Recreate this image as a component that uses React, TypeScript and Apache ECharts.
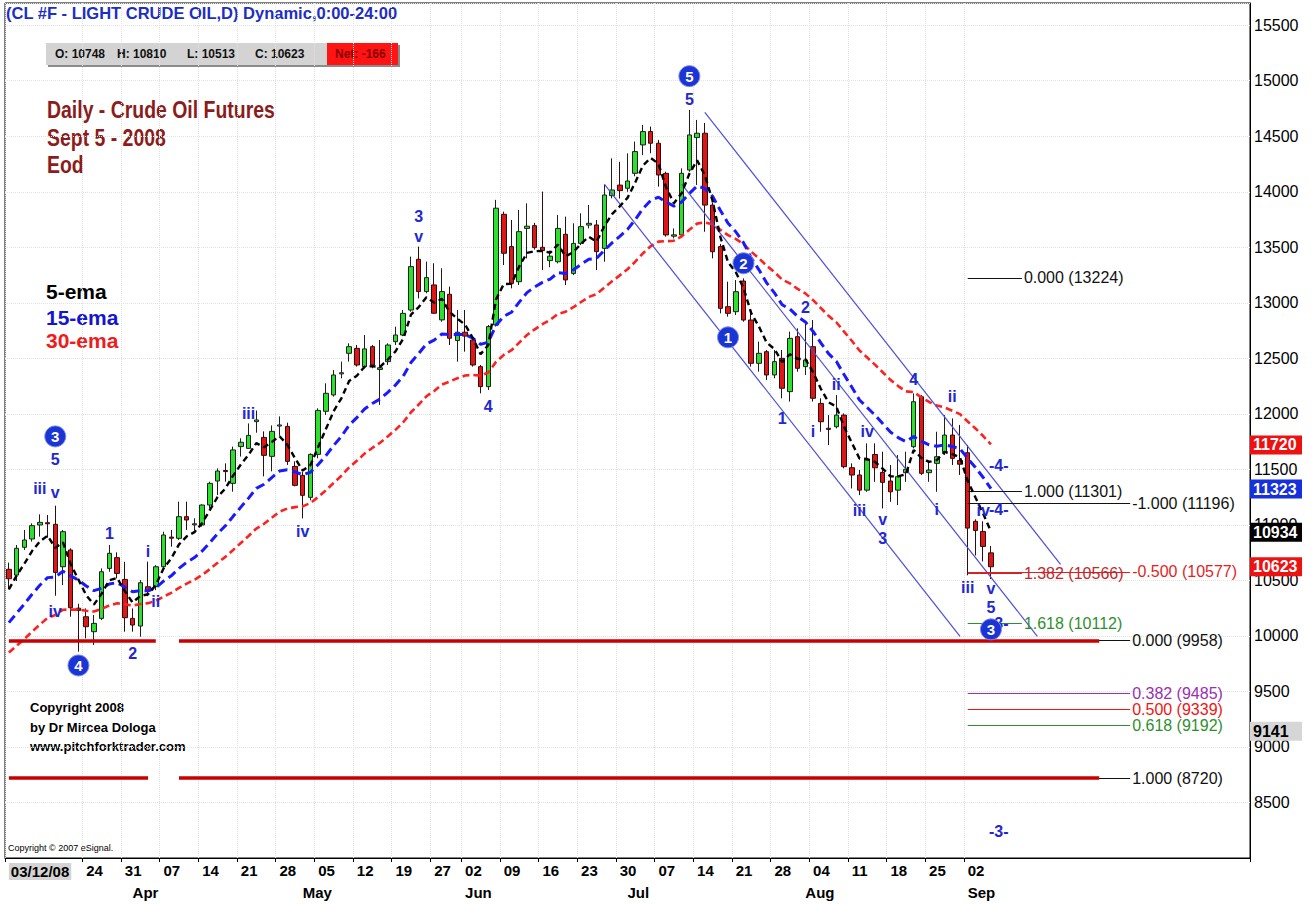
import React, { useEffect, useRef } from 'react';
import * as echarts from 'echarts';

// ---------- data (prices in cents, e.g. 10623 = $106.23) ----------
const dates = [
  '03/07','03/10','03/11','03/12','03/13','03/14','03/17','03/18','03/19','03/20',
  '03/24','03/25','03/26','03/27','03/28','03/31','04/01','04/02','04/03','04/04',
  '04/07','04/08','04/09','04/10','04/11','04/14','04/15','04/16','04/17','04/18',
  '04/21','04/22','04/23','04/24','04/25','04/28','04/29','04/30','05/01','05/02',
  '05/05','05/06','05/07','05/08','05/09','05/12','05/13','05/14','05/15','05/16',
  '05/19','05/20','05/21','05/22','05/23','05/27','05/28','05/29','05/30','06/02',
  '06/03','06/04','06/05','06/06','06/09','06/10','06/11','06/12','06/13','06/16',
  '06/17','06/18','06/19','06/20','06/23','06/24','06/25','06/26','06/27','06/30',
  '07/01','07/02','07/03','07/04','07/07','07/08','07/09','07/10','07/11','07/14',
  '07/15','07/16','07/17','07/18','07/21','07/22','07/23','07/24','07/25','07/28',
  '07/29','07/30','07/31','08/01','08/04','08/05','08/06','08/07','08/08','08/11',
  '08/12','08/13','08/14','08/15','08/18','08/19','08/20','08/21','08/22','08/25',
  '08/26','08/27','08/28','08/29','09/02','09/03','09/04','09/05'
];

const opens = [
  10600,10548,10798,10873,10999,11020,11005,10623,10774,10250,
  10173,10038,10158,10608,10705,10509,10158,10089,10443,10443,
  10623,10890,10879,11074,11000,10999,11179,11395,11490,11374,
  11705,11689,11930,11788,11617,11890,11887,11527,11446,11248,
  11635,12023,12170,12360,12545,12590,12425,12605,12400,12470,
  12650,12710,12935,13392,13101,13161,12846,13077,12660,12735,
  12665,12425,12245,12800,13797,13506,13190,13670,13695,13500,
  13380,13370,13617,13265,13535,13700,13701,13490,13965,14060,
  14031,14166,14422,14542,14437,14166,13600,13611,14196,14488,
  14527,13880,13506,12965,12920,13196,12845,12455,12560,12350,
  12500,12200,12695,12425,12605,12094,11870,11884,11989,11515,
  11449,11313,11634,11473,11395,11313,11470,11704,12154,11470,
  11554,11659,11809,11580,11650,11032,10941,10748
];

const highs = [
  10660,10819,10954,11014,11095,11089,11173,10954,10789,10290,
  10248,10188,10608,10819,10753,10668,10248,10503,10669,10638,
  10938,10954,11209,11209,11059,11185,11389,11509,11554,11705,
  11780,11914,12030,11842,11896,11977,11920,11572,11480,11644,
  12050,12275,12395,12470,12635,12620,12710,12620,12665,12635,
  12785,12935,13416,13506,13371,13356,13311,13146,12935,12935,
  12680,12440,12800,13927,13821,13746,13836,13896,13720,14001,
  13470,13791,13776,13716,13806,13881,13746,14061,14301,14270,
  14346,14452,14602,14587,14467,14181,13670,14211,14737,14647,
  14620,13900,13530,13190,13205,13220,12920,12650,12575,12575,
  12575,12740,12770,12830,12845,12140,11989,12169,12004,11554,
  11494,11734,11734,11659,11539,11629,11659,12184,12169,11569,
  11839,11989,11959,11900,11720,11050,11032,10810
];

const lows = [
  10420,10494,10774,10849,10894,10885,10362,10458,10173,9858,
  9978,9918,10143,10578,10518,10038,10038,9993,10358,10413,
  10608,10804,10864,10954,10954,10984,11149,11269,11389,11299,
  11615,11689,11830,11437,11482,11806,11540,11347,11059,11221,
  11600,11990,12155,12320,12470,12425,12410,12410,12080,12440,
  12620,12700,12920,13040,13086,12900,12830,12620,12470,12560,
  12425,12185,12215,12786,13340,13130,13160,13400,13480,13295,
  13320,13355,13160,13250,13520,13670,13295,13370,13941,13940,
  14000,14140,14330,14347,14046,13596,13580,13596,14180,14061,
  13640,13400,12905,12875,12890,12830,12425,12380,12305,12320,
  12140,12110,12380,12350,12110,11839,11719,11869,11509,11328,
  11268,11298,11388,11148,11208,11178,11388,11689,11449,11388,
  11298,11629,11539,11450,10546,10725,10671,10513
];

const closes = [
  10515,10789,10864,10993,11023,11010,10572,10939,10254,10230,
  10083,10113,10578,10744,10563,10164,10098,10479,10404,10623,
  10909,10880,11074,11044,11010,11179,11374,11485,11480,11675,
  11744,11806,11945,11626,11842,11900,11572,11356,11266,11635,
  12031,12185,12350,12370,12605,12440,12585,12440,12415,12620,
  12710,12905,13326,13101,13227,12906,13101,12681,12735,12700,
  12440,12245,12786,13852,13446,13175,13641,13690,13497,13470,
  13420,13670,13206,13535,13686,13716,13461,13971,14016,14010,
  14097,14362,14542,14437,14151,13611,13612,14166,14512,14527,
  13880,13460,12950,12905,13100,12845,12455,12545,12350,12470,
  12230,12680,12410,12485,12140,11929,11860,11989,11524,11449,
  11313,11584,11514,11383,11298,11434,11500,12109,11464,11494,
  11614,11809,11599,11546,10971,10950,10806,10623
];

const ema5 = [
  10420,10543,10650,10764,10850,10903,10793,10842,10646,10507,
  10366,10282,10381,10502,10522,10403,10301,10360,10375,10458,
  10608,10699,10824,10897,10935,11016,11135,11252,11328,11444,
  11544,11631,11736,11699,11747,11798,11723,11601,11489,11538,
  11702,11863,12025,12140,12295,12343,12424,12429,12424,12489,
  12563,12677,12893,12962,13050,13002,13035,12917,12856,12804,
  12683,12537,12620,13031,13169,13171,13328,13449,13465,13467,
  13451,13524,13418,13457,13533,13594,13550,13690,13799,13869,
  13945,14084,14237,14304,14253,14039,13897,13987,14162,14284,
  14149,13919,13596,13366,13277,13133,12907,12786,12641,12584,
  12466,12537,12495,12492,12375,12226,12104,12066,11885,11740,
  11598,11593,11567,11506,11437,11436,11457,11674,11604,11567,
  11583,11658,11638,11607,11395,11247,11100,10941
];

const ema15 = [
  10120,10204,10287,10375,10456,10525,10531,10582,10541,10502,
  10450,10408,10429,10468,10480,10440,10397,10407,10407,10434,
  10493,10541,10608,10663,10706,10765,10841,10922,10992,11077,
  11160,11241,11329,11366,11426,11485,11496,11478,11451,11474,
  11544,11624,11715,11797,11898,11966,12043,12093,12133,12194,
  12259,12340,12463,12543,12629,12664,12719,12714,12717,12715,
  12681,12626,12646,12797,12878,12915,13006,13092,13143,13184,
  13214,13271,13263,13297,13346,13392,13401,13472,13540,13599,
  13661,13749,13848,13922,13951,13908,13871,13908,13984,14052,
  14030,13959,13833,13717,13640,13541,13405,13297,13179,13090,
  12982,12944,12877,12828,12742,12640,12542,12473,12354,12241,
  12125,12057,11989,11913,11836,11786,11750,11795,11754,11721,
  11708,11721,11706,11686,11597,11516,11427,11326
];

const ema30 = [
  9850,9911,9972,10038,10102,10161,10188,10236,10237,10237,
  10227,10220,10243,10275,10294,10286,10274,10287,10295,10316,
  10354,10388,10432,10471,10506,10549,10602,10659,10712,10774,
  10837,10900,10967,11010,11064,11118,11147,11160,11167,11197,
  11251,11311,11378,11442,11517,11577,11642,11693,11740,11797,
  11856,11924,12014,12084,12158,12206,12264,12291,12320,12345,
  12351,12344,12373,12468,12531,12573,12642,12710,12761,12807,
  12847,12900,12920,12960,13007,13053,13079,13137,13194,13247,
  13302,13370,13446,13510,13551,13555,13559,13598,13657,13713,
  13724,13707,13658,13609,13576,13529,13460,13401,13333,13277,
  13209,13175,13126,13085,13024,12953,12883,12825,12741,12658,
  12571,12507,12443,12375,12306,12250,12202,12196,12149,12107,
  12075,12058,12028,11997,11931,11868,11800,11724
];

// x-axis tick labels
const firstDateLabel = '03/12/08';
const weekLabelDates = [
  '03/24','03/31','04/07','04/14','04/21','04/28','05/05','05/12','05/19','05/27',
  '06/02','06/09','06/16','06/23','06/30','07/07','07/14','07/21','07/28','08/04',
  '08/11','08/18','08/25','09/02'
];
const monthStartDates = ['04/01','05/01','06/02','07/01','08/01','09/02'];
const monthNames = ['Apr','May','Jun','Jul','Aug','Sep'];

// Elliott-wave labels: [text, bar index, price]
const waveLabels: [string, number, number][] = [
  ['iii', 4, 11329], ['v', 6, 11293], ['5', 6, 11590], ['1', 13, 10924], ['i', 18, 10762],
  ['iv', 6, 10221], ['ii', 19, 10311], ['2', 16, 9842], ['iii', 31, 12004], ['iv', 38, 10942],
  ['3', 53, 13780], ['v', 53, 13600], ['4', 62, 12068], ['5', 88, 14834], ['2', 103, 12960],
  ['1', 100, 11960], ['ii', 107, 12266], ['i', 104, 11843], ['iv', 111, 11843], ['iii', 110, 11131],
  ['v', 113, 11050], ['3', 113, 10878], ['4', 117, 12311], ['ii', 122, 12158], ['i', 120, 11140],
  ['iii', 124, 10437], ['iv', 126, 11131], ['v', 127, 10428], ['5', 127, 10257],
  ['-4-', 128, 11536], ['-4-', 128, 11140], ['-3-', 128, 10110], ['-3-', 128, 8239]
];
const circledLabels: [string, number, number][] = [
  ['3', 6, 11797], ['4', 9, 9734], ['5', 88, 15041], ['2', 95, 13356], ['1', 93, 12689], ['3', 127, 10059]
];

// pitchfork lines: [startBar, startPrice, endBar, endPrice]
const pitchforkLines: [number, number, number, number][] = [
  [90, 14716, 136, 10645],
  [87, 14068, 133, 9997],
  [77, 14068, 123, 9997]
];

// Fibonacci levels
const fibTexts = ['0.000', '1.000', '-1.000', '1.382', '-0.500', '1.618', '0.000', '0.382', '0.500', '0.618', '1.000'];
const fibValues = [13224, 11301, 11196, 10566, 10577, 10112, 9958, 9485, 9339, 9192, 8720];

// support levels (thick red)
const supportValues = [9958, 8720];

// current values shown on the price axis
const axisTagValues = [11720, 11323, 10934, 10623, 9141];

// header box
const ohlcTexts = ['O: 10748', 'H: 10810', 'L: 10513', 'C: 10623'];
const netText = 'Net: -166';

// ---------- styles ----------
const SANS = "'Liberation Sans',Arial,Helvetica,sans-serif";
const WAVE_BLUE = '#2327d2';
const FUTURE_SLOTS = 33;

export default function App() {
  const ref = useRef<HTMLDivElement>(null);

  useEffect(() => {
    if (!ref.current) return;
    const chart = echarts.init(ref.current, undefined, { renderer: 'svg' });

    const categories = [...dates, ...Array.from({ length: FUTURE_SLOTS }, (_, k) => `f${k + 1}`)];
    const weekSet = new Set(weekLabelDates);
    const monthMap = new Map(monthStartDates.map((d, k) => [d, monthNames[k]]));
    const isWeekTick = (idx: number, val: string) => idx === 0 || weekSet.has(val);

    const candleData = dates.map((_, i) => [opens[i], closes[i], lows[i], highs[i]]);

    const fibColors = ['#111', '#111', '#111', '#c3262b', '#e41e1e', '#2f8f2f', '#111', '#9a2fb0', '#ee1515', '#2f8f2f', '#111'];
    const fibShort = [true, true, false, true, false, true, false, false, false, false, false];
    const FIB_START = 124;
    const fibMarks = fibValues.map((v, k) => [
      {
        coord: [FIB_START, v],
        lineStyle: { color: fibColors[k], width: 1.2, type: 'solid' },
        label: {
          show: true,
          position: 'end',
          distance: 2,
          formatter: `${fibTexts[k]} (${v})`,
          color: fibColors[k],
          fontSize: 16,
          fontFamily: SANS,
          padding: [0, 0, 20, 0]
        }
      },
      { coord: [fibShort[k] ? 131 : 145, v] }
    ]);

    const supportSegments: any[] = [];
    supportValues.forEach((v, k) => {
      const firstEnd = k === 0 ? 19 : 18;
      [[0, firstEnd], [22, 141]].forEach(([a, b]) => {
        supportSegments.push([
          { coord: [a, v], lineStyle: { color: '#c80000', width: 3.5, type: 'solid' }, label: { show: false } },
          { coord: [b, v] }
        ]);
      });
    });

    const pitchMarks = pitchforkLines.map(([a, pa, b, pb]) => [
      { coord: [a, pa], lineStyle: { color: '#4b4fd8', width: 1.2, type: 'solid' }, label: { show: false } },
      { coord: [b, pb] }
    ]);

    const tagBg = ['#ee1111', '#1530dd', '#000000', '#ee1111', '#d6d6d6'];
    const tagFg = ['#fff', '#fff', '#fff', '#fff', '#000'];
    const axisTags = axisTagValues.map((v, k) => ({
      yAxis: v,
      lineStyle: { color: 'rgba(0,0,0,0)', width: 1 },
      label: {
        show: true,
        position: 'end',
        distance: 0,
        formatter: String(v),
        color: tagFg[k],
        backgroundColor: tagBg[k],
        fontSize: 16,
        fontWeight: 'bold',
        fontFamily: SANS,
        padding: [2, 4, 1, 3],
        width: 45
      }
    }));

    const txt = (x: number, y: number, text: string, fill: string, fontSize: number, bold: boolean, scaleX = 1) => ({
      type: 'text', x, y, scaleX,
      style: { text, fill, fontSize, fontWeight: bold ? 'bold' : 'normal', fontFamily: SANS, verticalAlign: 'middle' }
    });

    const headerElements: any[] = [
      txt(6, 13, '(CL #F - LIGHT CRUDE OIL,D) Dynamic,0:00-24:00', '#1d2ec4', 16.5, true, 1.0),
      { type: 'rect', shape: { x: 48, y: 45, width: 352, height: 22 }, style: { fill: '#8c8c8c' } },
      { type: 'rect', shape: { x: 46, y: 43, width: 281, height: 22 }, style: { fill: '#d3d3d3' } },
      { type: 'rect', shape: { x: 327, y: 43, width: 71, height: 22 }, style: { fill: '#ff1414' } },
      txt(335, 54, netText, '#8a0000', 12, true),
      txt(47, 110, 'Daily - Crude Oil Futures', '#8b1c1c', 24, true, 0.81),
      txt(47, 138, 'Sept 5 - 2008', '#8b1c1c', 24, true, 0.81),
      txt(47, 165, 'Eod', '#8b1c1c', 24, true, 0.81),
      txt(46, 291, '5-ema', '#000', 21, true),
      txt(46, 317, '15-ema', '#1515d0', 21, true),
      txt(46, 340, '30-ema', '#ee1c1c', 21, true),
      txt(30, 707, 'Copyright 2008', '#000', 13, true),
      txt(30, 727, 'by Dr Mircea Dologa', '#000', 13, true),
      txt(30, 746, 'www.pitchforktrader.com', '#000', 13, true),
      txt(8, 848, 'Copyright \u00a9 2007 eSignal.', '#000', 9, false)
    ];
    const ohlcX = [55, 117, 187, 255];
    ohlcTexts.forEach((t, k) => headerElements.push(txt(ohlcX[k], 54, t, '#111', 12, true)));

    const option: any = {
      animation: false,
      backgroundColor: '#ffffff',
      grid: { left: 5, right: 63, top: 3, bottom: 46, show: true, borderColor: '#000', borderWidth: 1, backgroundColor: 'transparent' },
      xAxis: [
        {
          type: 'category',
          data: categories,
          boundaryGap: true,
          axisLine: { show: true, lineStyle: { color: '#000', width: 1 } },
          axisTick: { show: true, interval: isWeekTick, length: 4, lineStyle: { color: '#000' } },
          axisLabel: {
            interval: isWeekTick,
            formatter: (val: string, idx: number) => (idx === 0 ? `{box|${firstDateLabel}}` : val.slice(3)),
            align: 'left',
            margin: 5,
            color: '#000',
            fontSize: 15,
            fontWeight: 'bold',
            fontFamily: SANS,
            rich: { box: { backgroundColor: '#d4d4d4', fontSize: 15, fontWeight: 'bold', fontFamily: SANS, color: '#000', padding: [1, 2] } }
          },
          splitLine: { show: true, interval: isWeekTick, lineStyle: { color: '#e2e2e2', type: 'dotted' } }
        },
        {
          type: 'category',
          data: categories,
          boundaryGap: true,
          position: 'bottom',
          offset: 22,
          axisLine: { show: false },
          axisTick: { show: false },
          axisLabel: {
            interval: (_: number, val: string) => monthMap.has(val),
            formatter: (val: string) => monthMap.get(val) || '',
            align: 'left',
            margin: 5,
            color: '#000',
            fontSize: 15,
            fontWeight: 'bold',
            fontFamily: SANS
          },
          splitLine: { show: false }
        }
      ],
      yAxis: {
        type: 'value',
        position: 'right',
        min: 8000,
        max: 15700,
        interval: 500,
        axisLine: { show: true, lineStyle: { color: '#000' } },
        axisTick: { show: false },
        axisLabel: {
          color: '#000', fontSize: 16, fontFamily: SANS, margin: 4,
          showMinLabel: false, showMaxLabel: false,
          formatter: (v: number) => String(v)
        },
        splitLine: { show: true, lineStyle: { color: '#e2e2e2', type: 'dotted' } }
      },
      graphic: { elements: headerElements },
      series: [
        {
          name: 'pitchfork',
          type: 'line',
          data: [],
          clip: false,
          silent: true,
          markLine: { symbol: ['none', 'none'], silent: true, animation: false, data: [...pitchMarks] }
        },
        {
          name: 'CL',
          type: 'candlestick',
          data: candleData,
          barWidth: 5,
          itemStyle: {
            color: '#2ee02e',
            color0: '#e01515',
            borderColor: '#1f1f1f',
            borderColor0: '#2a1010',
            borderWidth: 1
          },
          z: 3
        },
        {
          name: '30-ema',
          type: 'line',
          data: ema30,
          showSymbol: false,
          clip: false,
          lineStyle: { color: '#ff2020', width: 2.6, type: [7, 4] },
          z: 4,
          markLine: { symbol: ['none', 'none'], silent: true, animation: false, data: [...fibMarks, ...supportSegments] }
        },
        {
          name: '15-ema',
          type: 'line',
          data: ema15,
          showSymbol: false,
          clip: false,
          lineStyle: { color: '#1a1aff', width: 3, type: [9, 5] },
          z: 4
        },
        {
          name: '5-ema',
          type: 'line',
          data: ema5,
          showSymbol: false,
          clip: false,
          lineStyle: { color: '#000', width: 2.4, type: [6, 4] },
          z: 5,
          markLine: { symbol: ['none', 'none'], silent: true, animation: false, data: axisTags }
        },
        {
          name: 'waves',
          type: 'scatter',
          symbolSize: 2,
          itemStyle: { color: 'rgba(0,0,0,0)', opacity: 1 },
          data: waveLabels.map(([t, i, p]) => ({ value: [i, p], name: t })),
          label: { show: true, position: 'inside', formatter: '{b}', color: WAVE_BLUE, fontSize: 16, fontWeight: 'bold', fontFamily: SANS, opacity: 1 },
          z: 6,
          silent: true
        },
        {
          name: 'circled',
          type: 'scatter',
          symbol: 'circle',
          symbolSize: 21,
          itemStyle: { color: '#1b34d4', borderColor: '#7d8cf0', borderWidth: 1, opacity: 1 },
          data: circledLabels.map(([t, i, p]) => ({ value: [i, p], name: t })),
          label: { show: true, position: 'inside', formatter: '{b}', color: '#fff', fontSize: 15, fontWeight: 'bold', fontFamily: SANS },
          z: 7,
          silent: true
        }
      ]
    };

    chart.setOption(option);
    return () => chart.dispose();
  }, []);

  return (
    <div
      ref={ref}
      style={{ position: 'absolute', left: 0, top: 0, width: 1313, height: 904, background: '#fff' }}
    />
  );
}
